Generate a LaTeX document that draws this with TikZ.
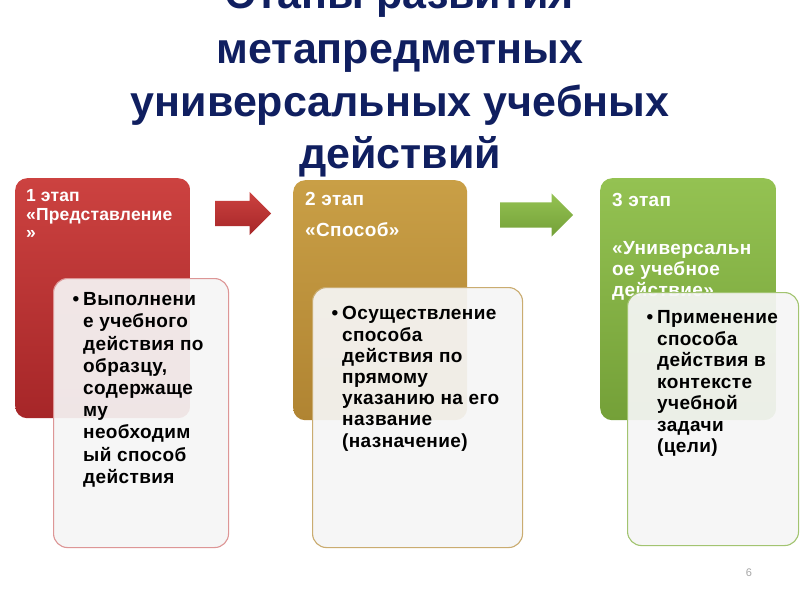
\documentclass[tikz,border=0pt]{standalone}
\usepackage{fontspec}
\setmainfont{Liberation Sans}
\usepackage{tikz}
\usetikzlibrary{shapes.arrows}
\definecolor{titleblue}{RGB}{16,31,96}
\definecolor{redtop}{RGB}{204,66,64}
\definecolor{redbot}{RGB}{166,38,40}
\definecolor{goldtop}{RGB}{201,159,70}
\definecolor{goldbot}{RGB}{176,132,50}
\definecolor{greentop}{RGB}{148,194,82}
\definecolor{greenbot}{RGB}{116,160,56}
\definecolor{redline}{RGB}{221,150,150}
\definecolor{goldline}{RGB}{202,172,112}
\definecolor{greenline}{RGB}{162,196,112}
\tikzstyle{stagebox} = [rectangle, rounded corners=12pt, inner sep=0pt, anchor=north west]
\tikzstyle{innerbox} = [rectangle, rounded corners=14pt, inner sep=0pt, anchor=north west,
fill=gray!7, fill opacity=0.92, line width=1.1pt]
\tikzstyle{headtext} = [anchor=north west, inner sep=0pt, align=left, text=white,
font=\fontsize{19}{18.5}\selectfont\bfseries\addfontfeature{LetterSpace=2}]
\tikzstyle{bodytext} = [anchor=north west, inner sep=0pt, align=left,
font=\fontsize{19}{21.6}\selectfont\bfseries\addfontfeature{LetterSpace=2}]
\tikzstyle{blockarrow} = [single arrow, single arrow head extend=9pt, inner sep=0pt, anchor=tail]
\tikzstyle{titleline} = [anchor=base, inner sep=0pt, text=titleblue,
font=\fontsize{43}{52}\selectfont\bfseries]

\begin{document}
\begin{tikzpicture}[x=1pt, y=-1pt]
\useasboundingbox (0,0) rectangle (800,600);
\clip (0,0) rectangle (800,600);
\fill[white] (0,0) rectangle (800,600);

% title
\node[titleline] (t1) at (400,8) {Этапы развития};
\node[titleline] (t2) at (400,63.5) {метапредметных};
\node[titleline] (t3) at (400,116) {универсальных учебных};
\node[titleline] (t4) at (400,168) {действий};

% stages
\node[stagebox, top color=redtop, bottom color=redbot, minimum width=175pt, minimum height=240pt] (st1) at (15,178) {};
\node[stagebox, top color=goldtop, bottom color=goldbot, minimum width=174pt, minimum height=240pt] (st2) at (293,180) {};
\node[stagebox, top color=greentop, bottom color=greenbot, minimum width=176pt, minimum height=242pt] (st3) at (600,178) {};

\node[headtext, font=\fontsize{17.5}{18.5}\selectfont\bfseries\addfontfeature{LetterSpace=1}] (h1) at (26,189.5) {1 этап\\«Представление\\»};
\node[headtext] (h2) at (305,192.5) {2 этап\\[12.5pt]«Способ»};
\node[headtext, font=\fontsize{19}{21}\selectfont\bfseries\addfontfeature{LetterSpace=2}] (h3) at (612,193.5) {3 этап\\[27pt]«Универсальн\\ое учебное\\действие»};

% arrows
\node[blockarrow, top color=redtop, bottom color=redbot, minimum height=56pt] (ar1) at (215,213.5) {\rule{0pt}{25pt}};
\node[blockarrow, top color=greentop, bottom color=greenbot, minimum height=73pt] (ar2) at (500,215) {\rule{0pt}{25pt}};

% descriptions
\node[innerbox, draw=redline, minimum width=175pt, minimum height=269pt] (d1) at (53,278) {};
\node[innerbox, draw=goldline, minimum width=210pt, minimum height=260pt] (d2) at (312,287) {};
\node[innerbox, draw=greenline, minimum width=171pt, minimum height=253pt] (d3) at (627,292) {};

\node[bodytext, font=\fontsize{19}{22.2}\selectfont\bfseries\addfontfeature{LetterSpace=2}] (b1) at (83,292.5) {\llap{•\hspace{4pt}}Выполнени\\е учебного\\действия по\\образцу,\\содержаще\\му\\необходим\\ый способ\\действия};
\node[bodytext, font=\fontsize{19}{21.2}\selectfont\bfseries\addfontfeature{LetterSpace=2}] (b2) at (342,306.5) {\llap{•\hspace{4pt}}Осуществление\\способа\\действия по\\прямому\\указанию на его\\название\\(назначение)};
\node[bodytext, font=\fontsize{19}{21.5}\selectfont\bfseries\addfontfeature{LetterSpace=2}] (b3) at (657,310.5) {\llap{•\hspace{4pt}}Применение\\способа\\действия в\\контексте\\учебной\\задачи\\(цели)};

\node[anchor=base, inner sep=0pt, text=gray!70, font=\fontsize{11}{13}\selectfont] (pg) at (749,576) {6};
\end{tikzpicture}
\end{document}
